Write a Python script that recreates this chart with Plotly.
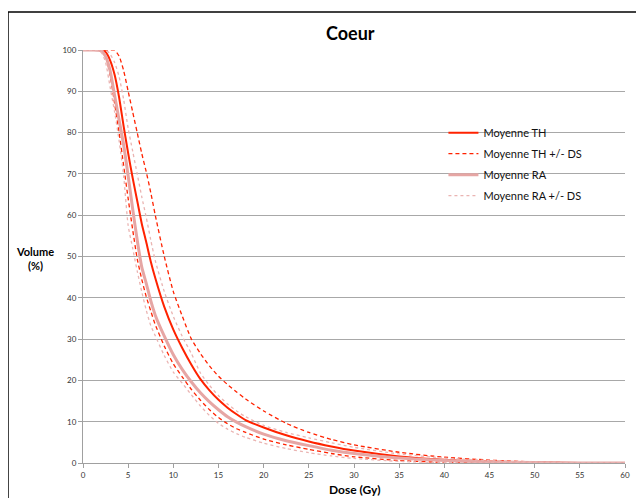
import plotly.graph_objects as go

dose = [0, 1, 2, 2.5, 3, 3.5, 4, 4.5, 5, 5.5, 6, 6.5, 7, 7.5, 8, 9, 10, 11, 12, 13, 14, 15, 16, 17, 18, 20,
        22.5, 25, 27.5, 30, 35, 40, 45, 50, 55, 60]

th_mean = [100, 100, 100, 99.5, 97.5, 94, 88.5, 81.5, 75, 69, 63.5, 58, 53.5, 48.8, 44.8, 37.8, 32.3, 27.8, 23.8,
           20.3, 17.6, 15.3, 13.4, 11.8, 10.4, 8.6, 6.7, 5.2, 4.0, 3.0, 1.6, 0.8, 0.35, 0.1, 0.02, 0]
th_upper = [100, 100, 100, 100, 100, 100, 98.5, 95, 90, 85, 80, 75, 70.5, 65.5, 60, 50, 41.5, 35.5, 30, 26.5,
            23.5, 21, 19, 17.2, 15.5, 12.6, 9.6, 7.4, 5.7, 4.4, 2.6, 1.4, 0.7, 0.25, 0.05, 0]
th_lower = [100, 100, 100, 98.5, 94, 87, 80, 72, 64, 56.5, 49.5, 44.5, 40.3, 36.8, 33.5, 28.3, 24, 20.8, 17.8,
            15.2, 12.9, 11.0, 9.5, 8.3, 7.4, 5.8, 4.4, 3.3, 2.3, 1.5, 0.6, 0.15, 0.02, 0, 0, 0]

ra_mean = [100, 100, 99.8, 98.5, 95, 89, 83, 77, 69.5, 61.5, 54, 47.5, 43.5, 39.3, 35.8, 30.7, 26.2, 22.6, 19.6,
           17.0, 14.8, 12.9, 11.2, 9.9, 8.8, 7.0, 5.4, 4.2, 3.1, 2.3, 1.2, 0.6, 0.25, 0.1, 0.02, 0]
ra_upper = [100, 100, 100, 100, 99, 97, 93.5, 88, 81, 75.5, 70, 64.5, 59.5, 54, 49, 41.5, 35.5, 30.6, 26.5,
            21.8, 18.8, 16.3, 14.3, 12.6, 11.2, 9.1, 7.4, 6.1, 4.9, 3.8, 2.2, 1.2, 0.6, 0.2, 0.03, 0]
ra_lower = [100, 100, 99.5, 97, 91, 85, 78, 69.5, 57.5, 52, 46.5, 41.5, 37, 33.3, 30.8, 26, 22, 19.3, 16.5,
            13.8, 11.5, 9.6, 8.2, 7.1, 6.2, 4.8, 3.5, 2.5, 1.7, 1.1, 0.4, 0.08, 0, 0, 0, 0]

TH_COLOR = "#ff2200"
RA_COLOR = "#e6a6a4"
RA_DASH_COLOR = "#eab4b2"

fig = go.Figure()

fig.add_trace(go.Scatter(x=dose, y=th_mean, mode="lines", name="Moyenne TH", legendgroup="a",
                         line=dict(color=TH_COLOR, width=2, shape="spline", smoothing=0.6)))
fig.add_trace(go.Scatter(x=dose, y=th_upper, mode="lines", name="Moyenne TH +/- DS", legendgroup="b",
                         line=dict(color=TH_COLOR, width=1.3, dash="4px,3px", shape="spline", smoothing=0.6)))
fig.add_trace(go.Scatter(x=dose, y=th_lower, mode="lines", name="Moyenne TH +/- DS", legendgroup="b",
                         showlegend=False,
                         line=dict(color=TH_COLOR, width=1.3, dash="4px,3px", shape="spline", smoothing=0.6)))
fig.add_trace(go.Scatter(x=dose, y=ra_mean, mode="lines", name="Moyenne RA", legendgroup="c",
                         line=dict(color=RA_COLOR, width=3, shape="spline", smoothing=0.6)))
fig.add_trace(go.Scatter(x=dose, y=ra_upper, mode="lines", name="Moyenne RA +/- DS", legendgroup="d",
                         line=dict(color=RA_DASH_COLOR, width=1.3, dash="3px,3px", shape="spline", smoothing=0.6)))
fig.add_trace(go.Scatter(x=dose, y=ra_lower, mode="lines", name="Moyenne RA +/- DS", legendgroup="d",
                         showlegend=False,
                         line=dict(color=RA_DASH_COLOR, width=1.3, dash="3px,3px", shape="spline", smoothing=0.6)))

FONT = "Lato, Open Sans, sans-serif"

fig.update_layout(
    width=636, height=490,
    margin=dict(l=75, r=19, t=42, b=35),
    paper_bgcolor="white", plot_bgcolor="white",
    font=dict(family=FONT, color="#222"),
    legend=dict(x=0.665, y=0.835, xanchor="left", yanchor="top", bgcolor="rgba(0,0,0,0)",
                font=dict(size=11, color="#111", family=FONT), tracegroupgap=2, itemwidth=30),
    showlegend=True,
)

fig.update_xaxes(range=[0, 60], tickmode="array", tickvals=list(range(0, 61, 5)),
                 showgrid=False, showline=True, linecolor="#a0a0a0", linewidth=1,
                 ticks="outside", ticklen=4, tickcolor="#a0a0a0", tickfont=dict(size=8, color="#333"),
                 zeroline=False, fixedrange=True)
fig.update_yaxes(range=[0, 100], tickmode="array", tickvals=list(range(0, 101, 10)),
                 showgrid=True, gridcolor="#a8a8a8", gridwidth=1,
                 showline=True, linecolor="#a0a0a0", linewidth=1,
                 ticks="outside", ticklen=4, tickcolor="#a0a0a0", tickfont=dict(size=8, color="#333"),
                 zeroline=False, fixedrange=True)

fig.add_annotation(text="<b>Coeur</b>", xref="paper", yref="paper", x=0.493, y=1.041,
                   xanchor="center", yanchor="middle", showarrow=False,
                   font=dict(size=18, color="black", family=FONT))
fig.add_annotation(text="<b>Volume<br>(%)</b>", xref="paper", yref="paper", x=-0.0886, y=0.494,
                   xanchor="center", yanchor="middle", showarrow=False,
                   font=dict(size=11, color="black", family=FONT))
fig.add_annotation(text="<b>Dose (Gy)</b>", xref="paper", yref="paper", x=0.5, y=-0.064,
                   xanchor="center", yanchor="middle", showarrow=False,
                   font=dict(size=12, color="black", family=FONT))

# outer chart frame (only the top and left edges are visible in the reference)
fig.add_shape(type="line", xref="paper", yref="paper", x0=-0.1384, y0=1.092, x1=1.1, y1=1.092,
              line=dict(color="black", width=1.5), layer="above")
fig.add_shape(type="line", xref="paper", yref="paper", x0=-0.1384, y0=-0.2, x1=-0.1384, y1=1.092,
              line=dict(color="black", width=1.5), layer="above")

fig.write_html("out.html")
